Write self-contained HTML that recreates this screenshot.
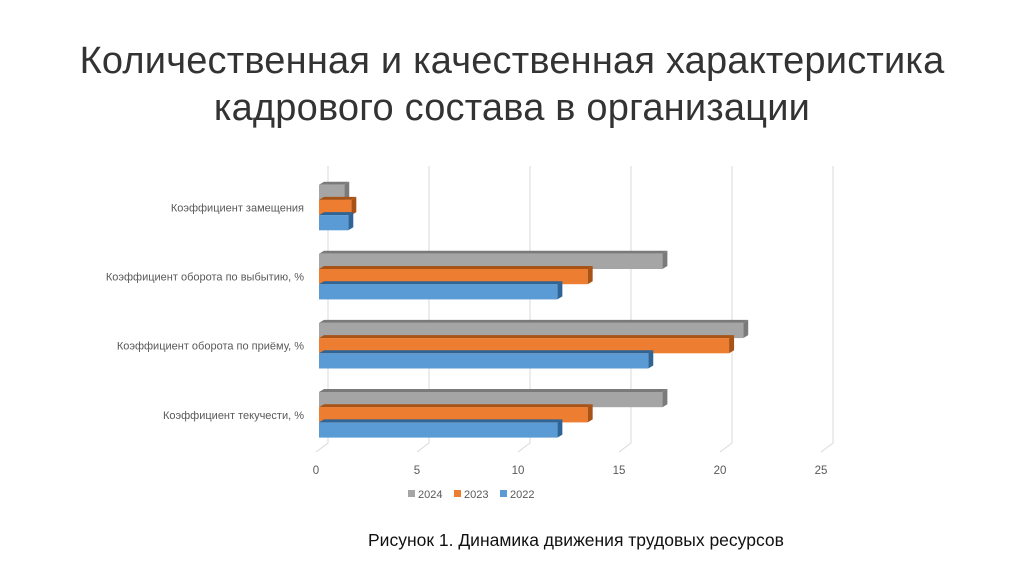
<!DOCTYPE html>
<html><head><meta charset="utf-8">
<style>
body{margin:0;width:1024px;height:574px;background:#fff;overflow:hidden;font-family:"Liberation Sans","DejaVu Sans",sans-serif;}
#title{position:absolute;left:0;width:1024px;top:38px;text-align:center;font-size:38px;line-height:47px;color:#333;letter-spacing:0.2px;}
#caption{position:absolute;left:368px;top:530px;font-size:17.5px;color:#111;}
svg{position:absolute;left:0;top:0;}
</style></head>
<body>
<div id="title">Количественная и качественная характеристика<br>кадрового состава в организации</div>
<svg id="chart" width="1024" height="574"></svg>
<div id="caption">Рисунок 1. Динамика движения трудовых ресурсов</div>
<script>
const categories=["Коэффициент замещения","Коэффициент оборота по выбытию, %","Коэффициент оборота по приёму, %","Коэффициент текучести, %"];
const seriesNames=["2024","2023","2022"];
const s2024=[1.25,17.0,21.0,17.0];
const s2023=[1.6,13.3,20.3,13.3];
const s2022=[1.45,11.8,16.3,11.8];
const ticks=[0,5,10,15,20,25];

const svg=document.getElementById('chart');
const NS='http://www.w3.org/2000/svg';
function mk(t,a){const e=document.createElementNS(NS,t);for(const k in a)e.setAttribute(k,a[k]);svg.appendChild(e);return e;}
const x0=319,ppu=20.2,dx=5,dy=3;
const xs=v=>x0+v*ppu;
const catCenter=i=>207.5+i*69.1;
const bh=15.2;
const colors=[["#a5a5a5","#8a8a8a","#7a7a7a"],["#ed7d31","#c9651f","#a85216"],["#5b9bd5","#4a84b8","#2f6496"]];
const series=[s2024,s2023,s2022];
ticks.forEach(t=>{
  const x=xs(t)+9;
  const g=mk('path',{d:`M${x},166 L${x},443 L${x-12},452`,stroke:'#d9d9d9','stroke-width':1,fill:'none'});
  
  
  const l=mk('text',{x:xs(t)-3,y:474,'font-size':11.5,fill:'#595959','text-anchor':'middle'});
  l.textContent=t;
  
  
});
categories.forEach((c,i)=>{
  const cy=catCenter(i);
  const l=mk('text',{x:304,y:cy+4,'font-size':11,fill:'#595959','text-anchor':'end'});
  l.textContent=c;
  
  
  series.forEach((s,j)=>{
    const y=cy-bh*1.5+j*bh;
    const x1=xs(s[i]);
    const col=colors[j];
    const top=mk('polygon',{points:`${x0},${y} ${x0+dx},${y-dy} ${x1+dx},${y-dy} ${x1},${y}`,fill:col[2]});
    
    
    const side=mk('polygon',{points:`${x1},${y} ${x1+dx},${y-dy} ${x1+dx},${y+bh-dy} ${x1},${y+bh}`,fill:col[2]});
    
    
    const r=mk('rect',{x:x0,y:y,width:x1-x0,height:bh,fill:col[0]});
    
    
  });
});
let lx=408;
seriesNames.forEach((n,j)=>{
  const r=mk('rect',{x:lx,y:490,width:7,height:7,fill:colors[j][0]});
  
  
  const t=mk('text',{x:lx+10,y:498,'font-size':11,fill:'#595959'});
  t.textContent=n;
  
  
  lx+=46;
});
</script>
</body></html>
